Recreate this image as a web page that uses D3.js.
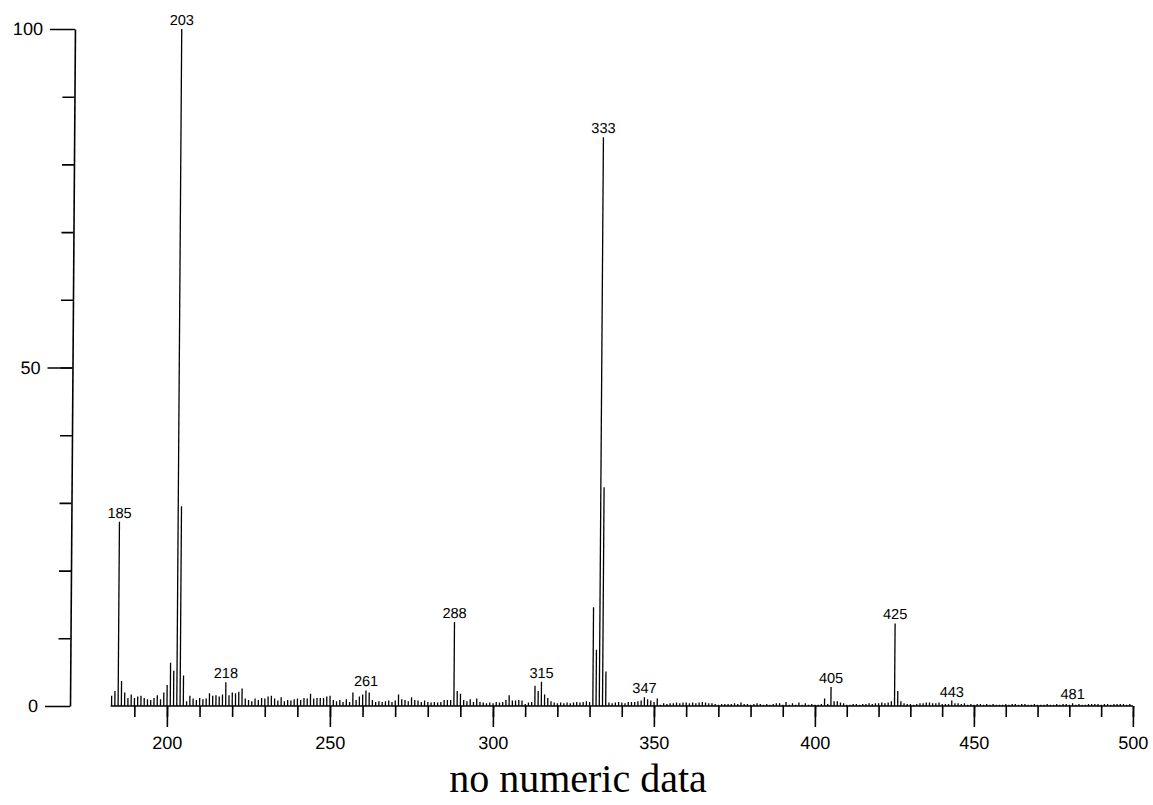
<!DOCTYPE html>
<html>
<head>
<meta charset="utf-8">
<script src="https://cdn.jsdelivr.net/npm/d3@7"></script>
<style>
  html, body { margin: 0; padding: 0; background: #fff; }
  svg { display: block; }
  text { font-family: "Liberation Sans", Arial, sans-serif; fill: #000; }
</style>
</head>
<body>
<svg id="chart" width="1153" height="805"></svg>
<script>
// ---- data ----
const mzStart = 183;
const intensities = [
  1.5, 2.2, 27.2, 3.7, 2.0, 1.2, 1.7, 1.2, 1.4, 1.5,          // 183-192
  1.2, 1.0, 0.9, 1.2, 1.6, 1.0, 2.0, 3.1, 6.4, 5.2,           // 193-202
  100, 29.5, 4.5, 0.7, 1.5, 1.1, 0.9, 1.2, 1.0, 1.1,          // 203-212
  1.9, 1.5, 1.6, 1.4, 1.7, 3.5, 1.6, 2.0, 1.9, 2.1,           // 213-222
  2.6, 1.1, 0.9, 0.7, 1.1, 0.9, 1.2, 1.1, 1.4, 1.5,           // 223-232
  1.1, 0.8, 1.3, 0.7, 0.9, 0.8, 1.0, 1.1, 0.9, 1.2,           // 233-242
  1.1, 1.8, 1.1, 1.2, 1.2, 1.2, 1.4, 1.5, 0.9, 0.7,           // 243-252
  0.9, 0.6, 1.0, 0.6, 2.0, 0.9, 1.4, 1.7, 2.3, 2.0,           // 253-262
  0.9, 0.6, 0.7, 0.6, 0.7, 0.8, 0.6, 0.8, 1.7, 1.0,           // 263-272
  0.9, 0.7, 1.3, 0.9, 0.8, 0.6, 0.8, 0.6, 0.5, 0.6,           // 273-282
  0.5, 0.6, 0.9, 0.9, 0.9, 12.4, 2.2, 1.8, 0.9, 0.7,          // 283-292
  1.0, 0.6, 1.1, 0.6, 0.5, 0.4, 0.5, 0.4, 0.6, 0.5,           // 293-302
  0.6, 0.9, 1.6, 0.8, 0.8, 0.9, 0.8, 0.3, 0.5, 0.6,           // 303-312
  3.0, 2.2, 3.6, 1.7, 1.2, 0.7, 0.5, 0.4, 0.5, 0.4,           // 313-322
  0.5, 0.4, 0.5, 0.6, 0.5, 0.6, 0.7, 0.6, 14.6, 8.3,          // 323-332
  84.0, 32.3, 5.1, 0.5, 0.4, 0.5, 0.6, 0.5, 0.4, 0.6,         // 333-342
  0.6, 0.6, 0.7, 0.8, 1.3, 1.0, 0.8, 0.6, 1.1, 0.2,           // 343-352
  0.4, 0.3, 0.4, 0.4, 0.5, 0.4, 0.5, 0.5, 0.4, 0.5,           // 353-362
  0.4, 0.5, 0.6, 0.5, 0.4, 0.4, 0.3, 0.2, 0.3, 0.3,           // 363-372
  0.3, 0.3, 0.4, 0.3, 0.5, 0.3, 0.3, 0.2, 0.3, 0.4,           // 373-382
  0.3, 0.2, 0.3, 0.2, 0.3, 0.4, 0.4, 0.2, 0.6, 0.2,           // 383-392
  0.4, 0.2, 0.5, 0.2, 0.4, 0.2, 0.3, 0.2, 0.2, 0.3,           // 393-402
  1.1, 0.3, 2.8, 0.7, 0.7, 0.5, 0.4, 0.2, 0.2, 0.3,           // 403-412
  0.3, 0.2, 0.3, 0.3, 0.4, 0.3, 0.4, 0.4, 0.5, 0.4,           // 413-422
  0.5, 0.7, 12.2, 2.2, 0.7, 0.4, 0.3, 0.3, 0.2, 0.3,          // 423-432
  0.4, 0.4, 0.5, 0.5, 0.4, 0.4, 0.5, 0.3, 0.3, 0.3,           // 433-442
  0.8, 0.4, 0.4, 0.3, 0.4, 0.2, 0.3, 0.2, 0.3, 0.3,           // 443-452
  0.2, 0.3, 0.2, 0.3, 0.2, 0.2, 0.2, 0.3, 0.2, 0.3,           // 453-462
  0.3, 0.2, 0.3, 0.3, 0.2, 0.2, 0.3, 0.2, 0.2, 0.2,           // 463-472
  0.3, 0.2, 0.2, 0.3, 0.2, 0.3, 0.3, 0.2, 0.4, 0.2,           // 473-482
  0.3, 0.2, 0.2, 0.3, 0.3, 0.3, 0.3, 0.2, 0.3, 0.3,           // 483-492
  0.2, 0.3, 0.3, 0.3, 0.3, 0.2, 0.3                           // 493-499
];
const peakLabels = [185, 203, 218, 261, 288, 315, 333, 347, 405, 425, 443, 481];
const xMajorTicks = [200, 250, 300, 350, 400, 450, 500];
const xMinorTicks = d3.range(190, 501, 10);
const yMajorTicks = [0, 50, 100];
const yMinorTicks = d3.range(10, 100, 10);
const caption = "no numeric data";

const data = intensities.map((v, i) => ({ mz: mzStart + i, v }));

// ---- scales ----
const svg = d3.select("#chart");
const x = d3.scaleLinear().domain([200, 300, 400, 500]).range([167, 493, 815, 1133]);
const y = d3.scaleLinear().domain([0, 100]).range([706, 29]);
const baseY = y(0);

const g = svg.append("g")
  .attr("transform", `translate(0,${baseY}) skewX(-0.42) translate(0,${-baseY})`);

// bars
g.append("g").selectAll("line").data(data).join("line")
  .attr("x1", d => x(d.mz)).attr("x2", d => x(d.mz))
  .attr("y1", baseY).attr("y2", d => y(d.v))
  .attr("stroke", "#000").attr("stroke-width", 1.3);

// peak labels
g.append("g").selectAll("text").data(data.filter(d => peakLabels.includes(d.mz))).join("text")
  .attr("x", d => x(d.mz)).attr("y", d => y(d.v) - 4)
  .attr("text-anchor", "middle").attr("font-size", 14.5)
  .text(d => d.mz);

// x axis
g.append("line")
  .attr("x1", x(mzStart - 0.3)).attr("x2", x(500))
  .attr("y1", baseY).attr("y2", baseY)
  .attr("stroke", "#000").attr("stroke-width", 1.6);

const xMinor = g.append("g").attr("transform", `translate(0,${baseY})`)
  .call(d3.axisBottom(x).tickValues(xMinorTicks).tickSize(11).tickFormat(""));
const xMajor = g.append("g").attr("transform", `translate(0,${baseY})`)
  .call(d3.axisBottom(x).tickValues(xMajorTicks).tickSize(21).tickPadding(9).tickFormat(d3.format("d")));
[xMinor, xMajor].forEach(a => {
  a.select(".domain").remove();
  a.selectAll(".tick line").attr("stroke", "#000").attr("stroke-width", 1.6);
});
xMajor.selectAll(".tick text").attr("font-size", 18).attr("font-family", "Liberation Sans, Arial, sans-serif").attr("fill", "#000");

// y axis
const yMinor = g.append("g").attr("transform", "translate(70,0)")
  .call(d3.axisLeft(y).tickValues(yMinorTicks).tickSize(12).tickSizeOuter(0).tickFormat(""));
const yMajor = g.append("g").attr("transform", "translate(70,0)")
  .call(d3.axisLeft(y).tickValues(yMajorTicks).tickSize(25).tickSizeOuter(0).tickPadding(7).tickFormat(d3.format("d")));
yMinor.select(".domain").remove();
yMajor.select(".domain").attr("stroke", "#000").attr("stroke-width", 1.6);
[yMinor, yMajor].forEach(a => a.selectAll(".tick line").attr("stroke", "#000").attr("stroke-width", 1.6));
yMajor.selectAll(".tick text").attr("font-size", 18).attr("font-family", "Liberation Sans, Arial, sans-serif").attr("fill", "#000");

// caption
svg.append("text")
  .attr("x", 578).attr("y", 792)
  .attr("text-anchor", "middle")
  .style("font-family", "'Liberation Serif', 'Times New Roman', serif")
  .attr("font-size", 40)
  .text(caption);
</script>
</body>
</html>
